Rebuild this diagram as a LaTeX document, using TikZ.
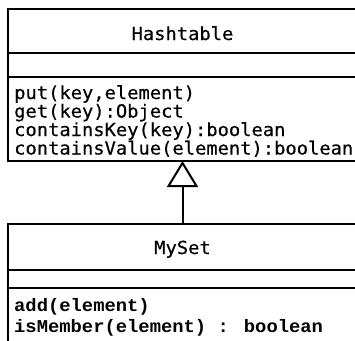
\documentclass[tikz,border=0pt]{standalone}
\usepackage{fontspec}
\usetikzlibrary{arrows.meta}
\newfontfamily\hmono[FakeStretch=1.043,FakeBold=0.4]{DejaVu Sans Mono}
\newfontfamily\cmono[FakeStretch=1.046]{Liberation Mono}
\begin{document}
\begin{tikzpicture}[x=1pt,y=-1pt,
  box/.style={draw, line width=2pt, inner sep=0pt, outer sep=0pt, anchor=north west, minimum width=349pt},
  htext/.style={font=\hmono\fontsize{18}{18}\selectfont, inner sep=0pt},
  ctext/.style={font=\cmono\bfseries\fontsize{18}{18}\selectfont, inner sep=0pt},
  gen/.style={line width=2pt, -{Triangle[open, length=26pt, width=31pt]}}]
\useasboundingbox (0,0) rectangle (355,340);
\clip (0,0) rectangle (355,340);
\fill[white] (0,0) rectangle (355,340);
% Hashtable
\node[box, minimum height=44pt] (hname) at (8,9) {};
\node[box, minimum height=24pt] (hattr) at (8,53) {};
\node[box, minimum height=84pt] (hops) at (8,77) {};
\node[htext, anchor=base] (htitle) at (182.5,40) {Hashtable};
\node[htext, anchor=base west] (hop1) at (14,99) {put(key,element)};
\node[htext, anchor=base west] (hop2) at (14,117.5) {get(key):Object};
\node[htext, anchor=base west] (hop3) at (14,136) {containsKey(key):boolean};
\node[htext, anchor=base west] (hop4) at (14,154.5) {containsValue(element):boolean};
% MySet
\node[box, minimum height=46pt] (mname) at (8,224) {};
\node[box, minimum height=18pt] (mattr) at (8,270) {};
\node[box, minimum height=70pt] (mops) at (8,288) {};
\node[htext, anchor=base] (mtitle) at (182.5,254) {MySet};
\node[ctext, anchor=base west] (mop1) at (14,311.5) {add(element)};
\node[ctext, anchor=base west] (mop2) at (14,332.5) {isMember(element) : boolean};
% generalization
\draw[gen] (mname.north) -- (hops.south);
\end{tikzpicture}
\end{document}
